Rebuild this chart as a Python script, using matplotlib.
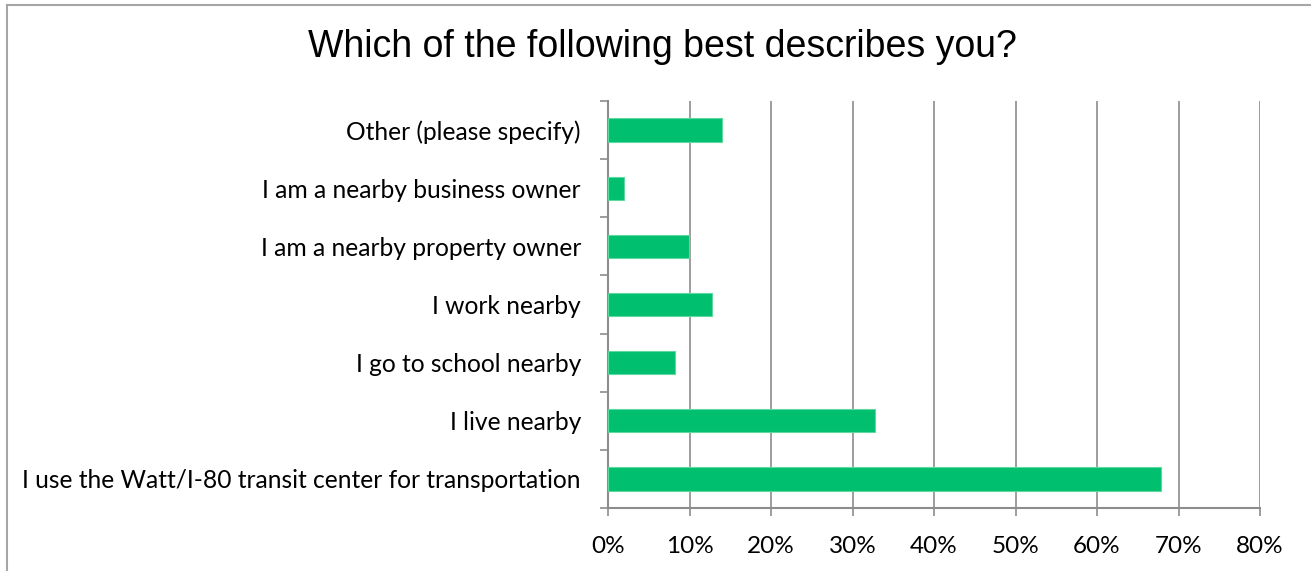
import matplotlib.pyplot as plt
from matplotlib.lines import Line2D
from matplotlib.ticker import PercentFormatter

categories = [
    'I use the Watt/I-80 transit center for transportation',
    'I live nearby',
    'I go to school nearby',
    'I work nearby',
    'I am a nearby property owner',
    'I am a nearby business owner',
    'Other (please specify)',
]
values = [67.8, 32.7, 8.2, 12.8, 9.9, 2.0, 14.0]
xticks = [0, 10, 20, 30, 40, 50, 60, 70, 80]

bar_color = '#00BF6F'
grid_color = '#8C8C8C'

fig = plt.figure(figsize=(13.11, 5.71), dpi=100)
ax = fig.add_axes([608 / 1311, 1 - 508 / 571, 652 / 1311, 407 / 571])

ypos = range(len(categories))
ax.barh(ypos, values, height=0.4, color=bar_color, edgecolor='#5FD9A0', linewidth=0.8, zorder=3)

ax.set_xlim(0, 80)
ax.set_ylim(-0.5, len(categories) - 0.5)
ax.set_xticks(xticks)
ax.xaxis.set_major_formatter(PercentFormatter(decimals=0))
ax.set_yticks(ypos)
ax.set_yticklabels(categories)
# category tick marks sit between the bars
ax.set_yticks([i - 0.5 for i in range(len(categories) + 1)], minor=True)
ax.tick_params(axis='y', which='major', length=0, pad=19.5, labelsize=17.7)
ax.tick_params(axis='y', which='minor', length=6, width=1.2, color=grid_color)
ax.tick_params(axis='x', length=6, width=1.2, color=grid_color, pad=14, labelsize=17.5)
for lab in ax.get_xticklabels() + ax.get_yticklabels():
    lab.set_fontfamily('Lato')

ax.grid(axis='x', color=grid_color, linewidth=1.2, zorder=0)
for side in ['top', 'right']:
    ax.spines[side].set_visible(False)
for side in ['left', 'bottom']:
    ax.spines[side].set_color(grid_color)
    ax.spines[side].set_linewidth(1.5)

fig.text(662 / 1311, 1 - 47 / 571, 'Which of the following best describes you?',
         ha='center', va='center', fontsize=27, fontfamily='Liberation Sans')

# chart frame (top and left edges visible)
fig.add_artist(Line2D([7 / 1311, 1], [1 - 5 / 571, 1 - 5 / 571], color='#A6A6A6', linewidth=1.5))
fig.add_artist(Line2D([7 / 1311, 7 / 1311], [0, 1 - 5 / 571], color='#A6A6A6', linewidth=1.5))

fig.savefig('out.png', dpi=100)
